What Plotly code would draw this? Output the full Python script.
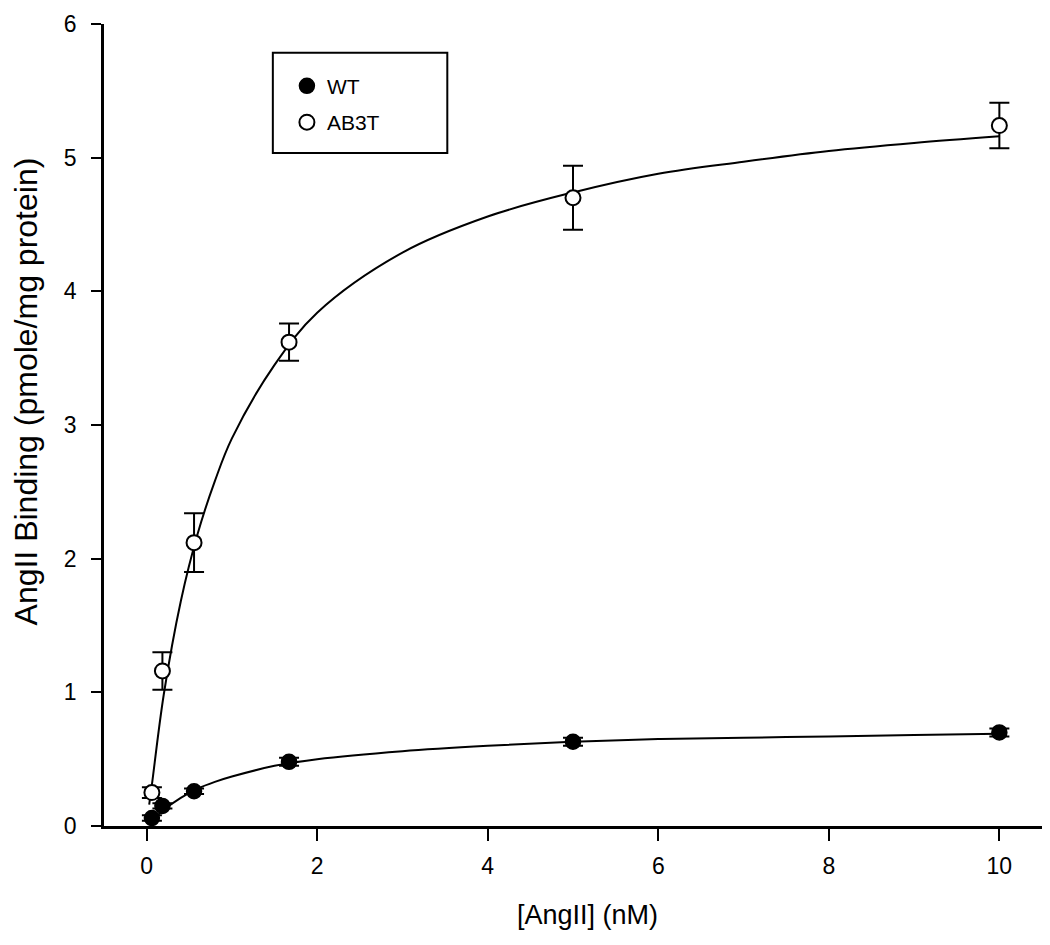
import plotly.graph_objects as go

# measured points
conc = [0.0617, 0.185, 0.556, 1.67, 5.0, 10.0]
wt_binding = [0.06, 0.15, 0.26, 0.48, 0.63, 0.70]
wt_err = [0.02, 0.02, 0.02, 0.03, 0.03, 0.03]
ab3t_binding = [0.25, 1.16, 2.12, 3.62, 4.70, 5.24]
ab3t_err = [0.04, 0.14, 0.22, 0.14, 0.24, 0.17]

# fitted curves
fit_x = [0.03, 0.06, 0.2, 0.4, 0.6, 0.8, 1.0, 1.5, 2.0, 3.0, 4.0, 5.0, 6.0, 7.0, 8.0, 9.0, 10.0]
wt_fit = [0.02, 0.04, 0.12, 0.21, 0.28, 0.33, 0.37, 0.45, 0.50, 0.56, 0.60, 0.63, 0.65, 0.66, 0.67, 0.68, 0.69]
ab3t_fit = [0.16, 0.30, 0.98, 1.68, 2.19, 2.58, 2.90, 3.45, 3.84, 4.29, 4.56, 4.74, 4.88, 4.97, 5.05, 5.11, 5.16]

font = "Liberation Sans, Arial, sans-serif"

fig = go.Figure()
fig.add_trace(go.Scatter(x=fit_x, y=wt_fit, mode="lines", line=dict(color="black", width=2, shape="spline"),
                         showlegend=False, hoverinfo="skip"))
fig.add_trace(go.Scatter(x=fit_x, y=ab3t_fit, mode="lines", line=dict(color="black", width=2, shape="spline"),
                         showlegend=False, hoverinfo="skip"))
fig.add_trace(go.Scatter(x=conc, y=wt_binding, mode="markers", name="WT", legendgroup="wt",
                         marker=dict(symbol="circle", size=15, color="black", line=dict(color="black", width=1.5)),
                         error_y=dict(type="data", array=wt_err, color="black", thickness=2, width=10)))
fig.add_trace(go.Scatter(x=conc, y=ab3t_binding, mode="markers", name="AB3T", legendgroup="ab3t",
                         marker=dict(symbol="circle", size=15, color="white", line=dict(color="black", width=2)),
                         error_y=dict(type="data", array=ab3t_err, color="black", thickness=2, width=10)))

# legend frame
fig.add_shape(type="rect", xref="paper", yref="paper", x0=0.180, x1=0.366, y0=0.839, y1=0.964,
              line=dict(color="black", width=2), fillcolor="rgba(0,0,0,0)")

# axis titles
fig.add_annotation(text="AngII Binding (pmole/mg protein)", xref="paper", yref="paper",
                   x=-0.083, y=0.542, xanchor="center", yanchor="middle", textangle=-90,
                   showarrow=False, font=dict(size=32))
fig.add_annotation(text="[AngII] (nM)", xref="paper", yref="paper",
                   x=0.515, y=-0.111, xanchor="center", yanchor="middle",
                   showarrow=False, font=dict(size=27))

fig.update_layout(
    width=1042, height=937,
    margin=dict(l=96, r=8, t=16, b=119),
    plot_bgcolor="white", paper_bgcolor="white",
    font=dict(family=font, color="black", size=22),
    legend=dict(x=0.195, y=0.948, xanchor="left", yanchor="top",
                borderwidth=0, bgcolor="rgba(0,0,0,0)",
                font=dict(size=21), tracegroupgap=6),
    xaxis=dict(range=[-0.5, 10.5], tickvals=[0, 2, 4, 6, 8, 10], showgrid=False, zeroline=False,
               showline=True, linecolor="black", linewidth=2.5, ticks="outside", ticklen=12,
               tickwidth=2, tickcolor="black", tickfont=dict(size=23), automargin=False,
               ticklabelstandoff=6),
    yaxis=dict(range=[0, 6], tickvals=[0, 1, 2, 3, 4, 5, 6], showgrid=False, zeroline=False,
               showline=True, linecolor="black", linewidth=2.5, ticks="outside", ticklen=10,
               tickwidth=2, tickcolor="black", tickfont=dict(size=23), automargin=False,
               ticklabelstandoff=10),
)

fig.write_html("out.html")
